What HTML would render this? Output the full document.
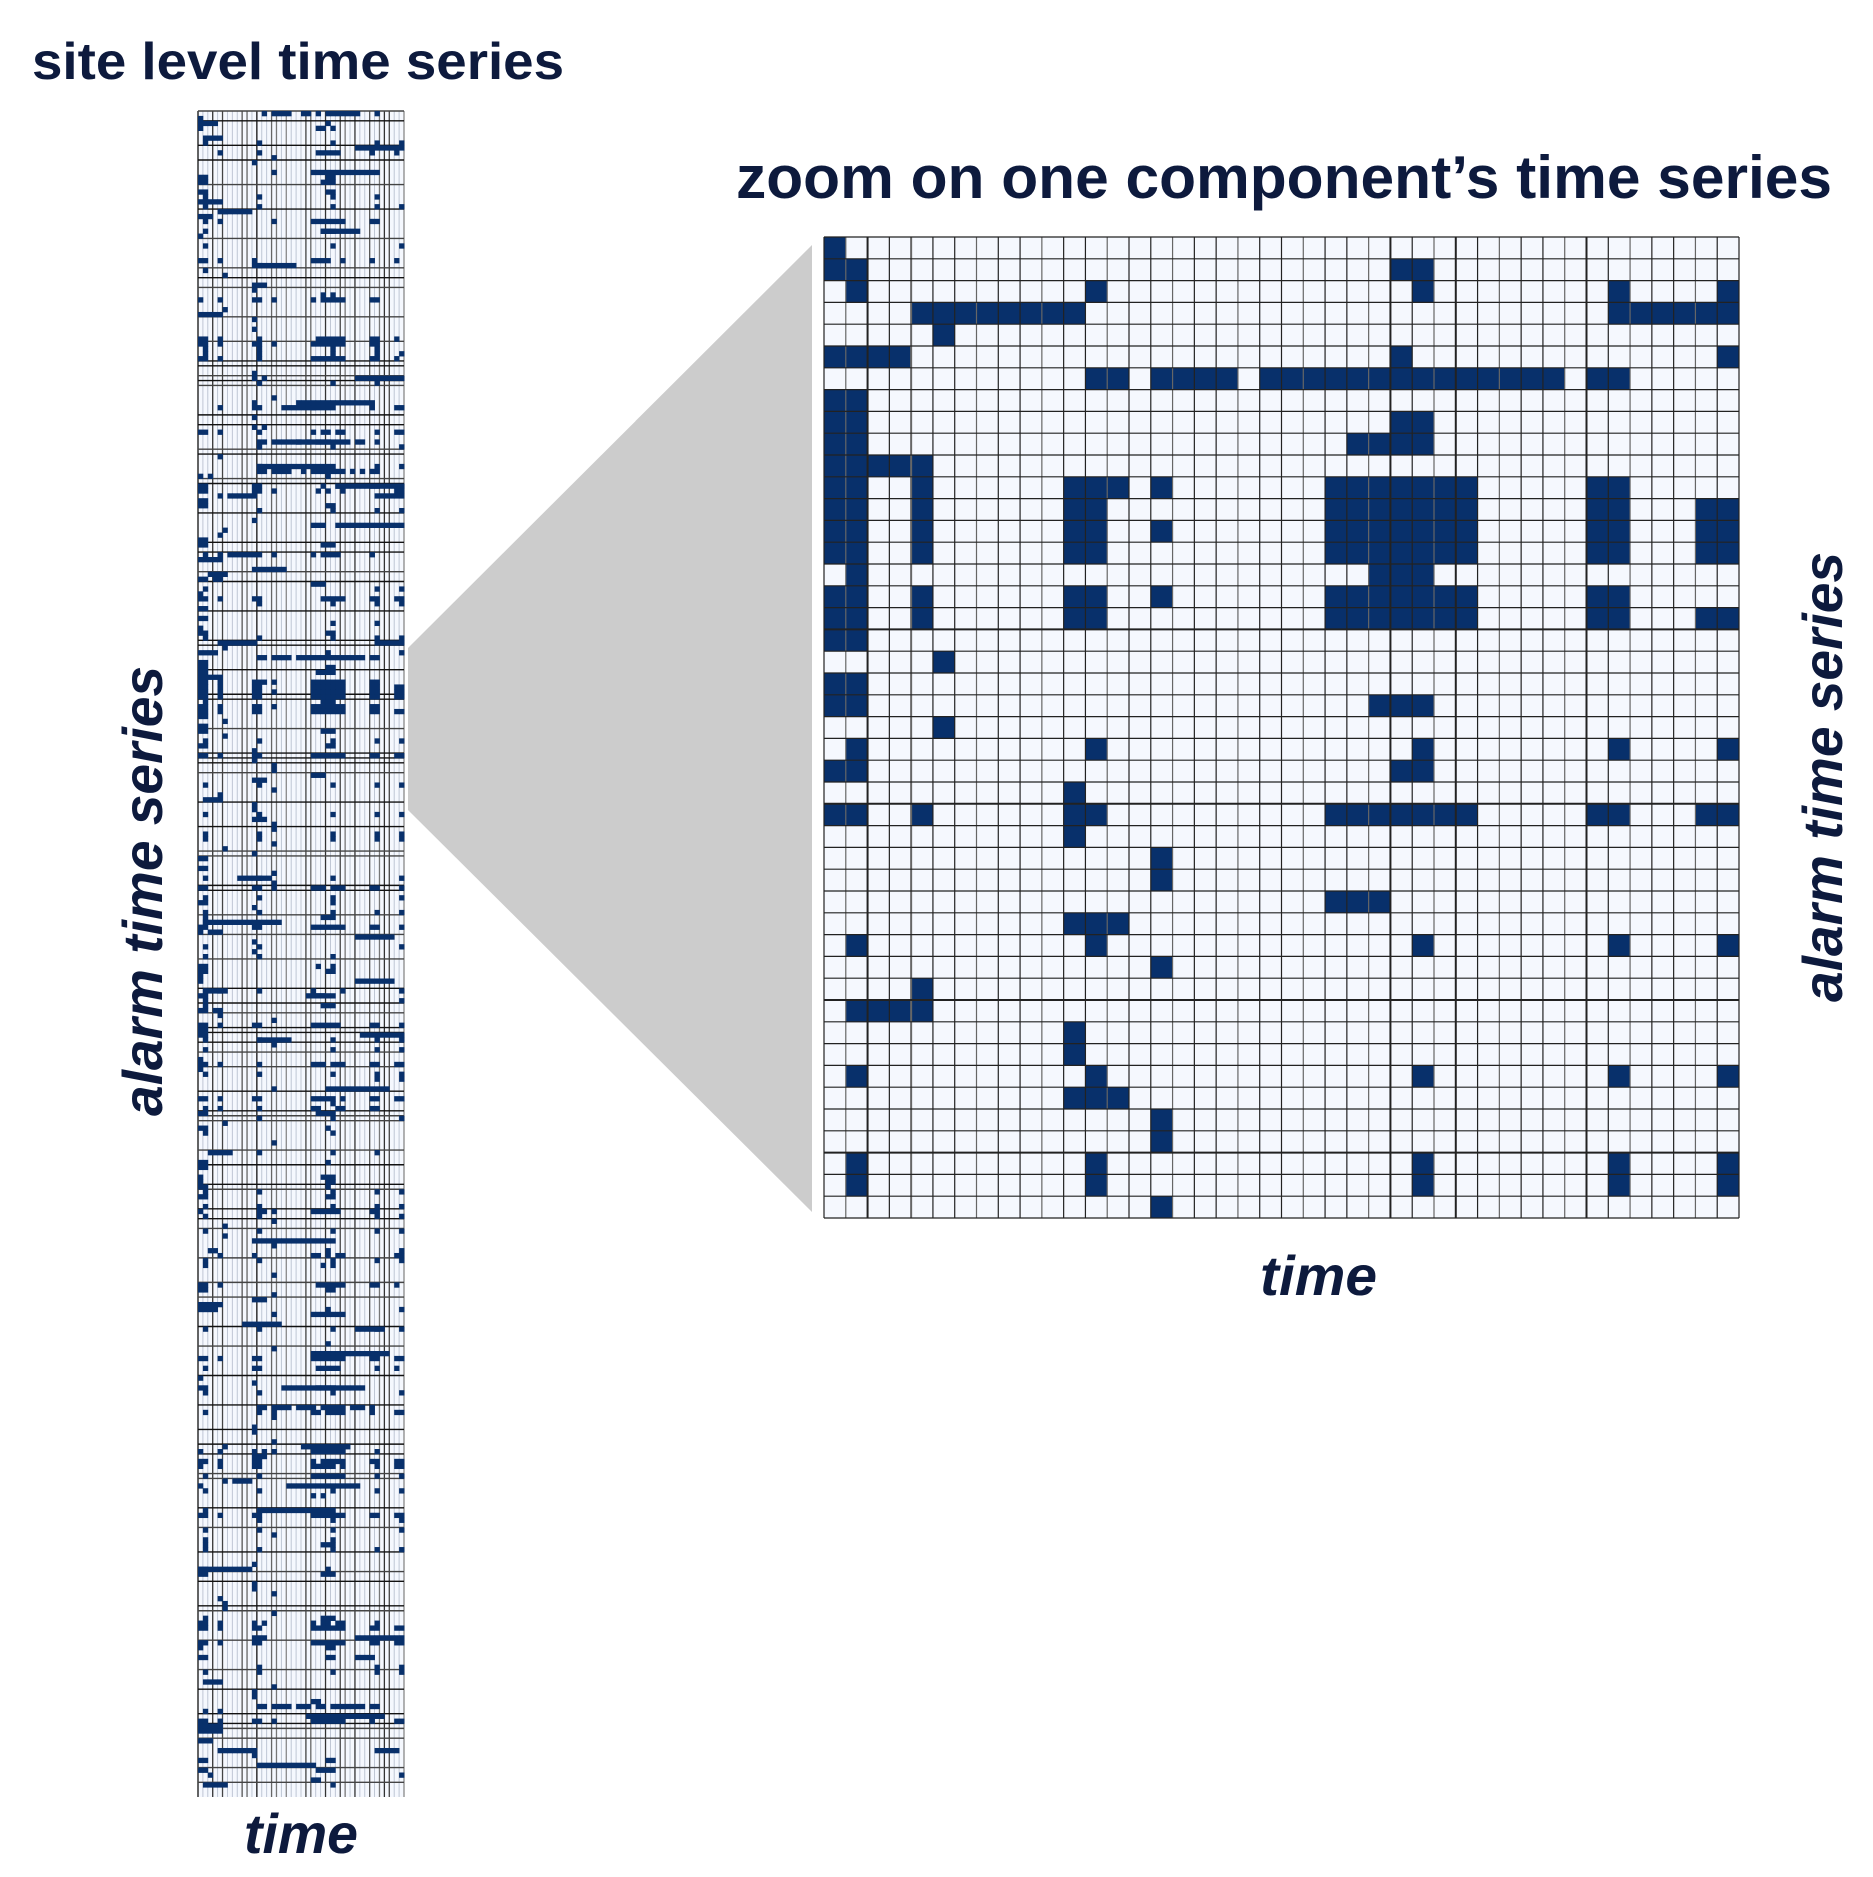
<!DOCTYPE html>
<html><head><meta charset="utf-8"><style>
html,body{margin:0;padding:0;background:#fff;}
svg{display:block}
text{font-family:"Liberation Sans",sans-serif;font-weight:bold;fill:#0d1a3d}
</style></head><body>
<svg id="s" width="1873" height="1877" viewBox="0 0 1873 1877" xmlns="http://www.w3.org/2000/svg">
<rect width="1873" height="1877" fill="#fff"/>
<polygon points="408,648 812,245 812,1212 408,810" fill="#cccccc"/>
<g id="strip"></g>
<g id="big"></g>
<text x="32" y="79" font-size="52" textLength="532" lengthAdjust="spacingAndGlyphs">site level time series</text>
<text x="736" y="198" font-size="60" textLength="1096" lengthAdjust="spacingAndGlyphs">zoom on one component’s time series</text>
<text x="1260" y="1295" font-size="56" font-style="italic" textLength="117" lengthAdjust="spacingAndGlyphs">time</text>
<text x="244" y="1853" font-size="56" font-style="italic" textLength="114" lengthAdjust="spacingAndGlyphs">time</text>
<text transform="translate(162,1116) rotate(-90)" font-size="56" font-style="italic" textLength="450" lengthAdjust="spacingAndGlyphs">alarm time series</text>
<text transform="translate(1842,1002) rotate(-90)" font-size="56" font-style="italic" textLength="450" lengthAdjust="spacingAndGlyphs">alarm time series</text>
</svg>
<script>
var R=[[0],[0,1,26,27],[1,12,27,36,41],[4,5,6,7,8,9,10,11,36,37,38,39,40,41],[5],[0,1,2,3,26,41],
[12,13,15,16,17,18,20,21,22,23,24,25,26,27,28,29,30,31,32,33,35,36],[0,1],[0,1,26,27],[0,1,24,25,26,27],[0,1,2,3,4],
[0,1,4,11,12,13,15,23,24,25,26,27,28,29,35,36],[0,1,4,11,12,23,24,25,26,27,28,29,35,36,40,41],
[0,1,4,11,12,15,23,24,25,26,27,28,29,35,36,40,41],[0,1,4,11,12,23,24,25,26,27,28,29,35,36,40,41],
[1,25,26,27],[0,1,4,11,12,15,23,24,25,26,27,28,29,35,36],[0,1,4,11,12,23,24,25,26,27,28,29,35,36,40,41],
[0,1],[5],[0,1],[0,1,25,26,27],[5],[1,12,27,36,41],[0,1,26,27],[11],[0,1,4,11,12,23,24,25,26,27,28,29,35,36,40,41],
[11],[15],[15],[23,24,25],[11,12,13],[1,12,27,36,41],[15],[4],[1,2,3,4],[11],[11],[1,12,27,36,41],[11,12,13],[15],[15],
[1,12,27,36,41],[1,12,27,36,41],[15]];
var NS="http://www.w3.org/2000/svg";
function el(p,n,a){var e=document.createElementNS(NS,n);for(var k in a)e.setAttribute(k,a[k]);p.appendChild(e);return e;}
var C="#08306b",BG="#f5f8fe";
var big=document.getElementById("big"),X0=824,Y0=237,cw=915/42,ch=981/45;
el(big,"rect",{x:X0,y:Y0,width:915,height:981,fill:BG});
R.forEach(function(r,i){r.forEach(function(c){el(big,"rect",{x:X0+c*cw,y:Y0+i*ch,width:cw+0.3,height:ch+0.3,fill:C});});});
var thickV={2:1,4:1,26:1,29:1,35:1},thickH={18:1,26:1,35:1,42:1};
for(var c=0;c<=42;c++){var x=X0+c*cw;el(big,"line",{x1:x,y1:Y0,x2:x,y2:Y0+981,stroke:(c%3==1?"#666":"#222"),"stroke-width":thickV[c]?2:1.2});}
for(var r=0;r<=45;r++){var y=Y0+r*ch;el(big,"line",{x1:X0,y1:y,x2:X0+915,y2:y,stroke:"#222","stroke-width":thickH[r]?2:1.2});}
var s=document.getElementById("strip"),SX=198,SY=111,SW=206,SH=1686,N=344,rh=SH/N,sw=SW/42;
el(s,"rect",{x:SX,y:SY,width:SW,height:SH,fill:BG});
var seed=12345;function rnd(){seed|=0;seed=seed+0x6D2B79F5|0;var t=Math.imul(seed^seed>>>15,1|seed);t=t+Math.imul(t^t>>>7,61|t)^t;return((t^t>>>14)>>>0)/4294967296;}
var vcol={0:"#111",3:"#333",5:"#444",9:"#555",10:"#666",12:"#111",15:"#666",16:"#777",18:"#888",22:"#444",23:"#666",26:"#333",29:"#444",30:"#777",32:"#333",35:"#555",37:"#777",38:"#333",39:"#444",42:"#888"};
for(var c=0;c<=42;c++){var x=SX+c*sw;el(s,"line",{x1:x,y1:SY,x2:x,y2:SY+SH,stroke:vcol[c]||"#b8c0cf","stroke-width":vcol[c]?1.3:0.9});}
var lines=[];var y=SY;while(y<SY+SH){lines.push([y,rnd()<0.6?"#111":"#444"]);y+=rh*(1+Math.floor(rnd()*6));}
lines.forEach(function(l){el(s,"line",{x1:SX,y1:l[0],x2:SX+SW,y2:l[0],stroke:l[1],"stroke-width":1.4});});
for(var i=0;i<N;i++){
 var cells=[];
 if(i>=105&&i<150){cells=R[i-105];}
 else{var q=rnd();
  if(q<0.18){cells=[];}
  else{var src=R[Math.floor(rnd()*45)];var keep=0.6+rnd()*0.4;src.forEach(function(c){if(rnd()<keep)cells.push(c);});
   if(rnd()<0.2){var a=Math.floor(rnd()*34),L=4+Math.floor(rnd()*14);for(var k=a;k<Math.min(42,a+L);k++)cells.push(k);}}
 }
 cells.forEach(function(c){el(s,"rect",{x:SX+c*sw,y:SY+i*rh,width:sw+0.4,height:rh+0.4,fill:C});});
}
</script>
</body></html>
